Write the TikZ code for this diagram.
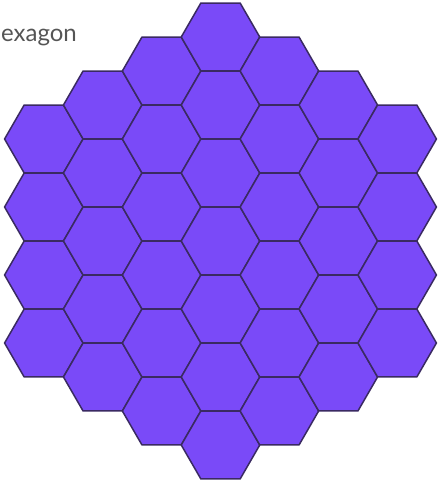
\documentclass[tikz,border=0pt]{standalone}
\usepackage{fontspec}
\setmainfont{Lato}
\usetikzlibrary{shapes.geometric}
\definecolor{hexfill}{HTML}{7A4AF8}
\definecolor{hexline}{HTML}{3A2A62}
\definecolor{labelgray}{HTML}{555555}
\tikzset{
  hexcell/.style={regular polygon,regular polygon sides=6,minimum size=78.5pt,
    inner sep=0pt,outer sep=0pt,draw=hexline,fill=hexfill,line width=1.5pt,line join=round},
  titletext/.style={anchor=base east,text=labelgray,inner sep=0pt,font=\fontsize{24}{28}\selectfont}
}
\begin{document}
\begin{tikzpicture}[x=1pt,y=1pt]
  \useasboundingbox (0,0) rectangle (438,484);
  \clip (0,0) rectangle (438,484);
  % grid of 37 cells, axial coordinates
  \foreach \q in {-3,...,3}{
    \foreach \r in {-3,...,3}{
      \pgfmathtruncatemacro{\s}{-\q-\r}
      \ifnum\s>-4 \ifnum\s<4
        \node[hexcell] (hex\q\r) at ({220.5+58.9*\q},{243+68*(\r+\q/2)}) {};
      \fi\fi
    }
  }
  \node[titletext] (title) at (77,442) {Hexagon};
\end{tikzpicture}
\end{document}
